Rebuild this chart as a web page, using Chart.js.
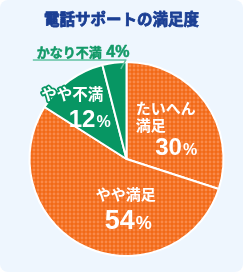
<!DOCTYPE html>
<html><head><meta charset="utf-8">
<script src="https://cdn.jsdelivr.net/npm/chart.js@4"></script>
<style>
html,body{margin:0;padding:0;background:#fff;}
#wrap{position:absolute;left:0;top:0;width:243px;height:272px;background:#eef6fe;border-radius:8px;overflow:hidden;}
canvas{display:block;}
</style></head>
<body><div id="wrap"><canvas id="c" width="243" height="272"></canvas></div>
<script>
const title = '電話サポートの満足度';
const categories = ['たいへん満足', 'やや満足', 'やや不満', 'かなり不満'];
const labelLines = [['たいへん', '満足'], ['やや満足'], ['やや不満'], ['かなり不満']];
const values = [30, 54, 12, 4];

function dotPattern(base, dot) {
  const p = document.createElement('canvas');
  p.width = 4; p.height = 4;
  const g = p.getContext('2d');
  g.fillStyle = base; g.fillRect(0, 0, 4, 4);
  g.fillStyle = dot; g.beginPath(); g.arc(2, 2, 1.45, 0, Math.PI * 2); g.fill();
  return g.createPattern(p, 'repeat');
}
const ctx0 = document.getElementById('c').getContext('2d');
const orange = dotPattern('#f26a17', '#f98a4a');
const green = '#079663';

const JP = '"Noto Sans CJK JP", sans-serif';
const NUM = '"Liberation Sans", Arial, sans-serif';

const labelPlugin = {
  id: 'sliceLabels',
  afterDraw(chart) {
    const ctx = chart.ctx;
    ctx.save();
    ctx.fillStyle = '#1b3f94';
    ctx.strokeStyle = '#1b3f94';
    ctx.lineWidth = 0.8;
    ctx.lineJoin = 'round';
    ctx.textAlign = 'center';
    ctx.textBaseline = 'middle';
    ctx.font = 'bold 15.5px ' + JP;
    ctx.strokeText(title, chart.width / 2, 19);
    ctx.fillText(title, chart.width / 2, 19);

    const arcs = chart.getDatasetMeta(0).data;
    const cfg = [
      {frac: 0.55, dx: -34, align: 'left', stroke: null, lines: [{dy: -19, size: 15}, {dy: -2, size: 15}], num: {dx: 10, dy: 19, size: 24, psize: 16}},
      {frac: 0.48, dx: 19, align: 'center', stroke: null, lines: [{dy: -7, size: 15}], num: {dx: 2, dy: 18, size: 27, psize: 18}},
      {frac: 0.62, dx: -19, align: 'center', stroke: green, lines: [{dy: -16, size: 15.5}], num: {dx: 17, dy: 8.5, size: 24, psize: 16}},
    ];
    arcs.forEach((arc, i) => {
      const p = arc.getProps(['x', 'y', 'startAngle', 'endAngle', 'outerRadius'], true);
      const mid = (p.startAngle + p.endAngle) / 2;
      if (i < 3) {
        const c = cfg[i];
        const ax = p.x + Math.cos(mid) * p.outerRadius * c.frac + c.dx;
        const ay = p.y + Math.sin(mid) * p.outerRadius * c.frac;
        ctx.fillStyle = '#ffffff';
        ctx.textAlign = c.align;
        ctx.textBaseline = 'middle';
        labelLines[i].forEach((t, k) => {
          ctx.font = 'bold ' + c.lines[k].size + 'px ' + JP;
          if (c.stroke) {
            ctx.strokeStyle = c.stroke; ctx.lineWidth = 3.5; ctx.lineJoin = 'round';
            ctx.strokeText(t, ax, ay + c.lines[k].dy);
          }
          ctx.fillText(t, ax, ay + c.lines[k].dy);
        });
        const numStr = String(values[i]);
        ctx.font = 'bold ' + c.num.size + 'px ' + NUM;
        const nw = ctx.measureText(numStr).width;
        ctx.font = 'bold ' + c.num.psize + 'px ' + NUM;
        const pw = ctx.measureText('%').width;
        const cx = (c.align === 'left' ? ax + 30 : ax) + c.num.dx;
        const left = cx - (nw + pw) / 2;
        ctx.textAlign = 'left';
        ctx.textBaseline = 'alphabetic';
        const base = ay + c.num.dy + c.num.size * 0.36;
        ctx.font = 'bold ' + c.num.size + 'px ' + NUM;
        ctx.fillText(numStr, left, base);
        ctx.font = 'bold ' + c.num.psize + 'px ' + NUM;
        ctx.fillText('%', left + nw + 1, base);
      } else {
        const ang = p.startAngle + (p.endAngle - p.startAngle) * 0.75;
        const ex = p.x + Math.cos(ang) * p.outerRadius * 0.93;
        const ey = p.y + Math.sin(ang) * p.outerRadius * 0.93;
        const kx = ex + 5, ky = p.y - p.outerRadius - 2;
        ctx.strokeStyle = '#62c2a2';
        ctx.lineWidth = 1.5;
        ctx.beginPath();
        ctx.moveTo(ex, ey);
        ctx.lineTo(kx, ky);
        ctx.lineTo(kx - 93, ky);
        ctx.stroke();
        ctx.fillStyle = '#139a68';
        ctx.strokeStyle = '#139a68';
        ctx.lineWidth = 0.5;
        ctx.textAlign = 'left';
        ctx.textBaseline = 'alphabetic';
        ctx.font = 'bold 13px ' + JP;
        const t = labelLines[i][0];
        const tx = kx - 89;
        ctx.strokeText(t, tx, ky - 3);
        ctx.fillText(t, tx, ky - 3);
        const tw = ctx.measureText(t).width;
        ctx.font = 'bold 16px ' + NUM;
        const s = ' ' + values[i] + '%';
        ctx.strokeText(s, tx + tw, ky - 3);
        ctx.fillText(s, tx + tw, ky - 3);
      }
    });
    ctx.restore();
  }
};

new Chart(ctx0, {
  type: 'pie',
  data: {
    labels: categories,
    datasets: [{
      data: values,
      backgroundColor: [orange, orange, green, green],
      borderColor: '#ffffff',
      borderWidth: 2,
      hoverOffset: 0
    }]
  },
  options: {
    responsive: false,
    animation: false,
    layout: {padding: {left: 28.5, right: 18.5, top: 61, bottom: 15}},
    plugins: {
      legend: {display: false},
      tooltip: {enabled: false},
      title: {display: false}
    }
  },
  plugins: [labelPlugin]
});
</script>
</body></html>
